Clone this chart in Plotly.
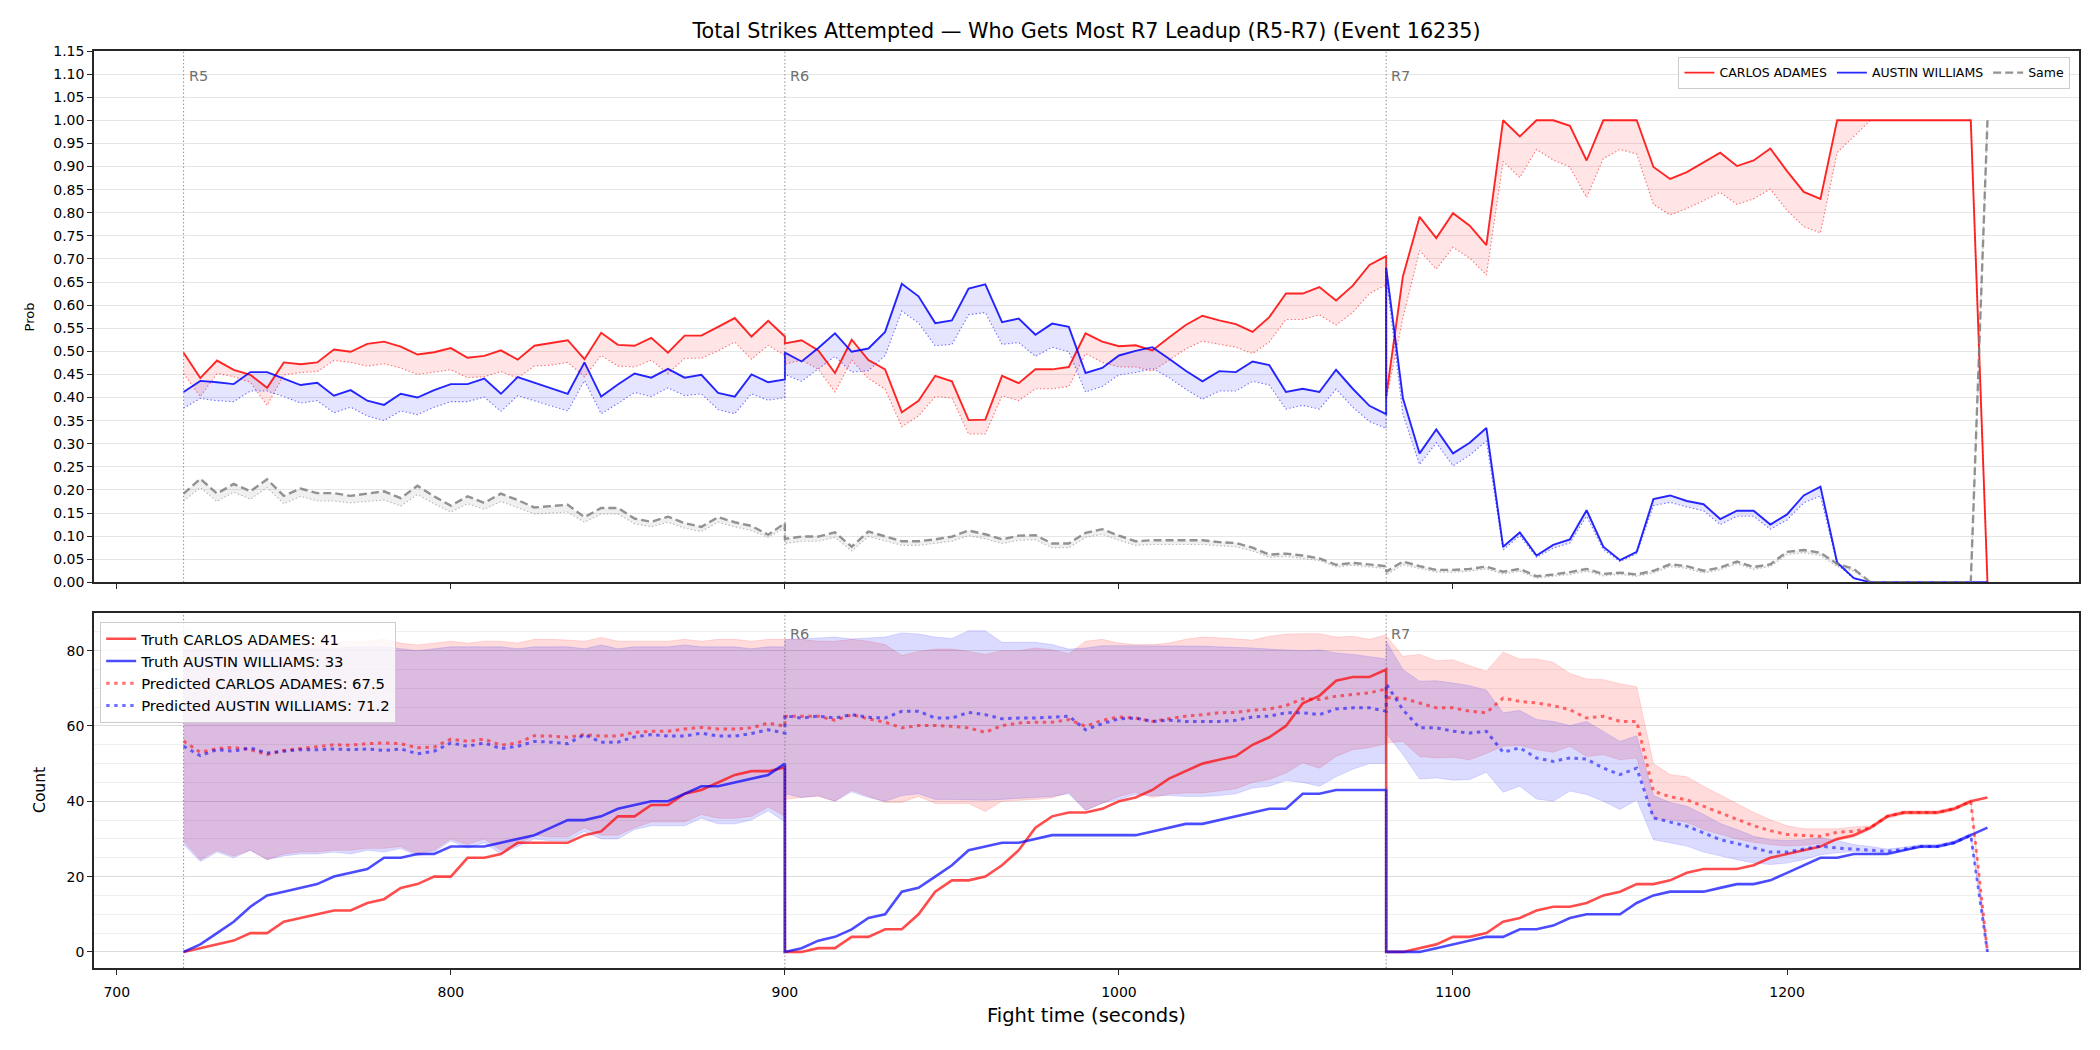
import plotly.graph_objects as go

# ---------------- data ----------------
r5_t = list(range(720, 901, 5))
r6_t = list(range(900, 1081, 5))
r7_t = list(range(1080, 1261, 5))
round_starts = [720, 900, 1080]
round_labels = ["R5", "R6", "R7"]

red_name = "CARLOS ADAMES"
blue_name = "AUSTIN WILLIAMS"
same_name = "Same"

# top: probabilities (solid) and second estimate (dotted)
red_prob_r5 = [0.497, 0.442, 0.480, 0.460, 0.449, 0.421, 0.476, 0.472, 0.476, 0.504, 0.499, 0.516, 0.521, 0.510, 0.493, 0.498, 0.507, 0.486, 0.490, 0.502, 0.482, 0.512, 0.518, 0.524, 0.483, 0.540, 0.514, 0.512, 0.529, 0.497, 0.534, 0.534, 0.553, 0.572, 0.532, 0.566, 0.532]
red_prob_r6 = [0.517, 0.524, 0.502, 0.453, 0.525, 0.481, 0.461, 0.368, 0.393, 0.447, 0.435, 0.351, 0.352, 0.447, 0.431, 0.461, 0.461, 0.466, 0.539, 0.521, 0.511, 0.513, 0.502, 0.530, 0.557, 0.577, 0.567, 0.559, 0.542, 0.574, 0.625, 0.625, 0.639, 0.610, 0.642, 0.687, 0.706]
red_prob_r7 = [0.402, 0.662, 0.791, 0.745, 0.799, 0.772, 0.730, 1.0, 0.965, 1.0, 1.0, 0.988, 0.913, 1.0, 1.0, 1.0, 0.899, 0.873, 0.888, 0.909, 0.930, 0.901, 0.913, 0.939, 0.890, 0.845, 0.830, 1.0, 1.0, 1.0, 1.0, 1.0, 1.0, 1.0, 1.0, 1.0, 0.0]
red_alt_r5 = [0.452, 0.402, 0.452, 0.445, 0.433, 0.383, 0.449, 0.454, 0.456, 0.480, 0.476, 0.468, 0.473, 0.464, 0.450, 0.455, 0.460, 0.443, 0.445, 0.456, 0.442, 0.468, 0.470, 0.476, 0.445, 0.491, 0.468, 0.466, 0.481, 0.452, 0.485, 0.485, 0.501, 0.520, 0.483, 0.513, 0.491]
red_alt_r6 = [0.472, 0.481, 0.461, 0.412, 0.481, 0.441, 0.418, 0.337, 0.360, 0.402, 0.399, 0.321, 0.321, 0.404, 0.393, 0.419, 0.419, 0.424, 0.495, 0.476, 0.466, 0.466, 0.457, 0.481, 0.505, 0.522, 0.515, 0.509, 0.495, 0.520, 0.569, 0.569, 0.579, 0.557, 0.584, 0.625, 0.644]
red_alt_r7 = [0.395, 0.572, 0.718, 0.678, 0.725, 0.702, 0.665, 0.911, 0.876, 0.937, 0.914, 0.899, 0.833, 0.917, 0.937, 0.927, 0.818, 0.795, 0.809, 0.826, 0.844, 0.818, 0.830, 0.851, 0.805, 0.770, 0.756, 0.930, 0.966, 1.0, 1.0, 1.0, 1.0, 1.0, 1.0, 1.0, 0.0]

blue_prob_r5 = [0.412, 0.436, 0.433, 0.429, 0.455, 0.455, 0.441, 0.427, 0.432, 0.404, 0.416, 0.393, 0.384, 0.408, 0.400, 0.416, 0.429, 0.429, 0.441, 0.408, 0.444, 0.432, 0.420, 0.408, 0.476, 0.402, 0.428, 0.452, 0.443, 0.462, 0.443, 0.449, 0.410, 0.402, 0.450, 0.433, 0.439]
blue_prob_r6 = [0.497, 0.478, 0.507, 0.539, 0.499, 0.506, 0.542, 0.646, 0.619, 0.561, 0.567, 0.636, 0.645, 0.563, 0.571, 0.536, 0.560, 0.553, 0.453, 0.464, 0.491, 0.501, 0.509, 0.484, 0.458, 0.435, 0.457, 0.455, 0.478, 0.470, 0.412, 0.419, 0.412, 0.460, 0.419, 0.382, 0.364]
blue_prob_r7 = [0.681, 0.399, 0.279, 0.331, 0.279, 0.302, 0.334, 0.077, 0.108, 0.058, 0.081, 0.093, 0.156, 0.077, 0.048, 0.066, 0.180, 0.188, 0.176, 0.169, 0.137, 0.155, 0.155, 0.125, 0.147, 0.188, 0.207, 0.043, 0.009, 0.0, 0.0, 0.0, 0.0, 0.0, 0.0, 0.0, 0.0]
blue_alt_r5 = [0.377, 0.398, 0.393, 0.391, 0.414, 0.414, 0.402, 0.388, 0.393, 0.367, 0.379, 0.360, 0.350, 0.371, 0.363, 0.379, 0.391, 0.391, 0.401, 0.370, 0.404, 0.393, 0.383, 0.371, 0.437, 0.365, 0.387, 0.411, 0.402, 0.421, 0.404, 0.408, 0.374, 0.365, 0.408, 0.394, 0.400]
blue_alt_r6 = [0.450, 0.435, 0.461, 0.489, 0.455, 0.458, 0.491, 0.587, 0.561, 0.512, 0.515, 0.579, 0.584, 0.515, 0.519, 0.489, 0.509, 0.499, 0.412, 0.424, 0.449, 0.454, 0.463, 0.443, 0.418, 0.396, 0.414, 0.414, 0.435, 0.427, 0.375, 0.383, 0.375, 0.418, 0.379, 0.348, 0.333]
blue_alt_r7 = [0.662, 0.364, 0.255, 0.302, 0.252, 0.275, 0.306, 0.070, 0.101, 0.054, 0.074, 0.085, 0.143, 0.071, 0.045, 0.062, 0.166, 0.173, 0.163, 0.155, 0.125, 0.143, 0.143, 0.115, 0.135, 0.172, 0.187, 0.039, 0.008, 0.0, 0.0, 0.0, 0.0, 0.0, 0.0, 0.0, 0.0]

same_prob_r5 = [0.192, 0.224, 0.192, 0.213, 0.197, 0.223, 0.187, 0.203, 0.193, 0.193, 0.187, 0.192, 0.197, 0.182, 0.209, 0.186, 0.166, 0.186, 0.172, 0.192, 0.178, 0.162, 0.165, 0.168, 0.141, 0.161, 0.161, 0.138, 0.131, 0.142, 0.128, 0.120, 0.141, 0.130, 0.122, 0.103, 0.128]
same_prob_r6 = [0.094, 0.099, 0.099, 0.108, 0.077, 0.110, 0.099, 0.089, 0.089, 0.093, 0.099, 0.112, 0.104, 0.093, 0.101, 0.102, 0.084, 0.084, 0.107, 0.115, 0.101, 0.089, 0.091, 0.091, 0.091, 0.091, 0.087, 0.085, 0.075, 0.060, 0.062, 0.058, 0.052, 0.038, 0.042, 0.038, 0.035]
same_prob_r7 = [0.023, 0.045, 0.035, 0.027, 0.027, 0.029, 0.034, 0.023, 0.029, 0.013, 0.017, 0.022, 0.029, 0.018, 0.021, 0.017, 0.025, 0.039, 0.035, 0.025, 0.032, 0.045, 0.033, 0.039, 0.066, 0.070, 0.064, 0.040, 0.029, 0.0, 0.0, 0.0, 0.0, 0.0, 0.0, 0.0, 1.0]
same_alt_r5 = [0.176, 0.205, 0.175, 0.195, 0.180, 0.205, 0.170, 0.186, 0.176, 0.176, 0.172, 0.175, 0.178, 0.165, 0.190, 0.170, 0.152, 0.170, 0.158, 0.175, 0.162, 0.148, 0.150, 0.152, 0.130, 0.148, 0.148, 0.127, 0.120, 0.130, 0.117, 0.110, 0.130, 0.120, 0.112, 0.097, 0.118]
same_alt_r6 = [0.084, 0.089, 0.089, 0.097, 0.068, 0.099, 0.089, 0.080, 0.080, 0.084, 0.089, 0.101, 0.094, 0.084, 0.091, 0.092, 0.075, 0.075, 0.097, 0.104, 0.091, 0.080, 0.082, 0.082, 0.082, 0.082, 0.079, 0.077, 0.068, 0.054, 0.056, 0.052, 0.047, 0.033, 0.037, 0.033, 0.030]
same_alt_r7 = [0.016, 0.038, 0.030, 0.022, 0.022, 0.024, 0.029, 0.018, 0.024, 0.009, 0.013, 0.017, 0.024, 0.014, 0.017, 0.013, 0.020, 0.034, 0.030, 0.020, 0.027, 0.040, 0.028, 0.034, 0.060, 0.064, 0.058, 0.034, 0.024, 0.0, 0.0, 0.0, 0.0, 0.0, 0.0, 0.0, 1.0]

# bottom: cumulative counts
red_truth_r5 = [0, 1, 2, 3, 5, 5, 8, 9, 10, 11, 11, 13, 14, 17, 18, 20, 20, 25, 25, 26, 29, 29, 29, 29, 31, 32, 36, 36, 39, 39, 42, 43, 45, 47, 48, 48, 49]
red_truth_r6 = [0, 0, 1, 1, 4, 4, 6, 6, 10, 16, 19, 19, 20, 23, 27, 33, 36, 37, 37, 38, 40, 41, 43, 46, 48, 50, 51, 52, 55, 57, 60, 66, 68, 72, 73, 73, 75]
red_truth_r7 = [0, 0, 1, 2, 4, 4, 5, 8, 9, 11, 12, 12, 13, 15, 16, 18, 18, 19, 21, 22, 22, 22, 23, 25, 26, 27, 28, 30, 31, 33, 36, 37, 37, 37, 38, 40, 41]
blue_truth_r5 = [0, 2, 5, 8, 12, 15, 16, 17, 18, 20, 21, 22, 25, 25, 26, 26, 28, 28, 28, 29, 30, 31, 33, 35, 35, 36, 38, 39, 40, 40, 42, 44, 44, 45, 46, 47, 50]
blue_truth_r6 = [0, 1, 3, 4, 6, 9, 10, 16, 17, 20, 23, 27, 28, 29, 29, 30, 31, 31, 31, 31, 31, 31, 32, 33, 34, 34, 35, 36, 37, 38, 38, 42, 42, 43, 43, 43, 43]
blue_truth_r7 = [0, 0, 0, 1, 2, 3, 4, 4, 6, 6, 7, 9, 10, 10, 10, 13, 15, 16, 16, 16, 17, 18, 18, 19, 21, 23, 25, 25, 26, 26, 26, 27, 28, 28, 29, 31, 33]

red_pred_r5 = [56.0, 53.0, 54.0, 54.3, 53.7, 52.4, 53.5, 54.0, 54.6, 55.0, 54.9, 55.3, 55.5, 55.3, 54.2, 54.4, 56.5, 55.9, 56.5, 54.9, 55.5, 57.4, 57.3, 57.0, 57.7, 57.3, 57.3, 58.3, 58.6, 58.6, 59.2, 59.6, 59.2, 59.2, 59.5, 60.8, 59.9]
red_pred_r6 = [62.6, 62.6, 62.6, 61.5, 63.0, 61.9, 61.0, 59.5, 60.1, 60.1, 59.9, 59.5, 58.3, 60.1, 60.8, 61.0, 61.0, 61.7, 59.9, 61.5, 62.4, 62.1, 61.2, 61.9, 62.6, 63.0, 63.5, 63.6, 64.2, 64.5, 65.4, 67.2, 67.0, 67.9, 68.3, 68.8, 69.8]
red_pred_r7 = [67.5, 67.4, 66.1, 64.8, 64.8, 63.9, 63.5, 67.4, 66.5, 66.1, 65.4, 64.3, 62.1, 62.6, 61.2, 61.2, 42.7, 41.2, 40.4, 38.7, 36.9, 35.1, 33.5, 32.2, 31.2, 30.9, 30.7, 31.8, 32.0, 33.0, 36.0, 37.0, 37.0, 37.0, 38.0, 40.0, 0.0]
blue_pred_r5 = [54.6, 52.1, 53.7, 53.3, 54.2, 52.8, 53.3, 53.7, 53.7, 53.9, 53.7, 53.9, 53.5, 53.9, 52.6, 53.3, 55.5, 54.6, 55.5, 54.0, 54.6, 55.9, 55.7, 55.3, 57.7, 55.7, 55.7, 57.1, 57.7, 57.3, 57.3, 58.1, 57.3, 57.3, 58.0, 59.0, 58.1]
blue_pred_r6 = [62.7, 62.1, 62.6, 62.1, 63.0, 62.3, 62.1, 63.9, 63.9, 62.1, 62.1, 63.6, 63.0, 61.9, 62.1, 62.1, 62.4, 62.6, 59.0, 60.6, 61.9, 62.1, 61.2, 61.5, 61.2, 61.2, 61.2, 61.5, 62.4, 62.6, 63.5, 63.5, 63.0, 64.5, 64.8, 64.8, 63.9]
blue_pred_r7 = [71.2, 64.3, 59.5, 59.5, 58.6, 58.1, 58.6, 53.0, 54.2, 51.5, 50.6, 51.5, 51.2, 48.8, 47.1, 48.8, 35.6, 34.4, 33.4, 31.6, 29.8, 28.8, 27.6, 26.5, 26.5, 27.3, 28.1, 27.6, 27.3, 27.0, 26.7, 27.3, 28.0, 28.0, 29.0, 31.0, 0.0]

red_hi_r5 = [82, 81.5, 82, 81.5, 82, 81, 81.5, 81.5, 82, 82, 82.5, 82.5, 83, 82, 81.5, 82, 82.5, 82, 82.5, 82.5, 82, 83, 83, 82.8, 82.5, 83.5, 82.5, 82.5, 82.5, 82.5, 83, 82.5, 83, 83, 82.5, 83, 83]
red_hi_r6 = [83, 83, 82.5, 82.5, 83, 82.5, 81.6, 78.7, 79.8, 80.4, 80.4, 79.8, 79, 80, 80, 80.7, 80.2, 79.2, 82.5, 83, 82, 81.6, 81.6, 82, 83, 83.6, 83.4, 83.1, 82.8, 83.8, 84.4, 84.5, 84.5, 83.6, 83.8, 83, 84.2]
red_hi_r7 = [84, 78.5, 79, 77.3, 77.6, 76, 74.5, 79.6, 77.8, 77.8, 76.9, 73.9, 72.5, 72.3, 71.2, 70.4, 50, 47.1, 46.5, 44, 41.8, 39.4, 37.1, 35.1, 33.5, 32.7, 32.7, 32.7, 33.2, 33.5, 36.5, 37.5, 37.5, 37.5, 38.5, 40.5, 0]
red_lo_r5 = [29.4, 24.5, 27, 25.5, 27, 24.5, 26, 26.5, 26.5, 27, 27, 27.5, 27.5, 28, 26, 27, 30, 28.5, 30, 27, 28.5, 31, 30.5, 30.5, 33, 31, 31, 33, 34.5, 34.5, 34.5, 36.5, 35.5, 35.5, 36, 38.5, 36]
red_lo_r6 = [40.5, 41, 41.3, 40, 43, 41.3, 39.7, 39.7, 41.3, 39.4, 39.4, 39.4, 37.3, 40, 40.3, 40.5, 40.9, 42.4, 37.6, 39.4, 41.3, 42.4, 41, 41.9, 42.2, 42.2, 42.7, 43.3, 45, 45.8, 47.5, 50.2, 48.8, 51.9, 53.7, 54.2, 55.3]
red_lo_r7 = [55.5, 55.9, 51.9, 51.5, 51.7, 51, 52.7, 54.6, 54.8, 53.7, 53, 54.6, 51.9, 52.4, 51, 51.5, 35.3, 35.1, 34.4, 32.5, 31.2, 30, 29.1, 28.5, 28.1, 28.3, 28.8, 29.6, 30.5, 32.5, 35.5, 36.5, 36.5, 36.5, 37.5, 39.5, 0]
blue_hi_r5 = [80, 80.5, 80.5, 80.5, 80.5, 80, 80.5, 80.5, 80.5, 80.5, 81, 81, 81, 80.5, 80, 80.5, 81, 81, 81, 81, 80.5, 81, 81, 81, 80.5, 81.5, 80.5, 81, 81, 81, 81.5, 81, 81, 81, 80.5, 81, 81]
blue_hi_r6 = [82.9, 83.1, 83.3, 83.6, 83.1, 83.3, 83.6, 84.7, 84.4, 83.6, 83.2, 85.3, 85.3, 82.2, 82.3, 82.2, 81.6, 80.4, 80.7, 81.3, 81.3, 81.3, 81.3, 81.2, 81.2, 81.2, 81, 80.9, 80.7, 80.4, 80.2, 80, 80.2, 79.4, 79, 78.3, 77.8]
blue_hi_r7 = [82.5, 75, 71.9, 72, 71.4, 70.7, 69.5, 63.5, 64.1, 61.7, 61.2, 60.1, 61.2, 58.6, 55.9, 57.4, 41.5, 39.7, 38.7, 36.5, 34.1, 32.5, 30.7, 29.8, 29.6, 29.8, 30.3, 29.6, 28.5, 28, 27.3, 27.8, 28.5, 28.5, 29.5, 31.5, 0]
blue_lo_r5 = [28.5, 24, 26.5, 25, 27, 24.5, 25.5, 26, 26, 26.5, 26, 27, 26.5, 27.5, 25.5, 26.5, 29.5, 27.5, 29, 26, 28, 30, 29.5, 29.5, 32, 30, 30, 32.5, 33.5, 33.5, 33.5, 35.5, 34, 34, 35, 37.5, 34.5]
blue_lo_r6 = [42, 41, 41.5, 40, 42.5, 41, 40, 41.5, 42, 40.5, 40.5, 40.5, 40.3, 40.5, 40.8, 41, 41.3, 42, 37.6, 39.5, 40.5, 41.8, 41.5, 41.5, 41.3, 41.3, 41.5, 42, 43.5, 44, 45.5, 45, 44, 46.5, 48.5, 50, 50]
blue_lo_r7 = [58, 52.4, 45.9, 46.2, 45.6, 45.8, 47.7, 42.4, 44, 40.6, 40, 42.7, 41.8, 40, 37.8, 40.4, 29.8, 28.9, 28.1, 26.5, 25.4, 24.5, 23.6, 23.2, 23.6, 24.5, 25.8, 26.3, 26.7, 26.5, 26.3, 27, 27.6, 27.6, 28.6, 30.6, 0]

x_ticks = [700, 800, 900, 1000, 1100, 1200]

# ---------------- assemble ----------------
t = r5_t + r6_t + r7_t
red_prob = red_prob_r5 + red_prob_r6 + red_prob_r7
red_alt = red_alt_r5 + red_alt_r6 + red_alt_r7
blue_prob = blue_prob_r5 + blue_prob_r6 + blue_prob_r7
blue_alt = blue_alt_r5 + blue_alt_r6 + blue_alt_r7
same_prob = same_prob_r5 + same_prob_r6 + same_prob_r7
same_alt = same_alt_r5 + same_alt_r6 + same_alt_r7
red_truth = red_truth_r5 + red_truth_r6 + red_truth_r7
blue_truth = blue_truth_r5 + blue_truth_r6 + blue_truth_r7
red_pred = red_pred_r5 + red_pred_r6 + red_pred_r7
blue_pred = blue_pred_r5 + blue_pred_r6 + blue_pred_r7
red_hi = red_hi_r5 + red_hi_r6 + red_hi_r7
red_lo = red_lo_r5 + red_lo_r6 + red_lo_r7
blue_hi = blue_hi_r5 + blue_hi_r6 + blue_hi_r7
blue_lo = blue_lo_r5 + blue_lo_r6 + blue_lo_r7

FONT = "DejaVu Sans"
DOT_THIN = "1.4px,2.3px"

fig = go.Figure()


def band(x, upper, lower, color, xa, ya, edge=None, edge_w=0):
    fig.add_trace(go.Scatter(
        x=x + x[::-1], y=upper + lower[::-1], fill="toself", fillcolor=color,
        mode="lines", line=dict(width=edge_w, color=edge or color),
        xaxis=xa, yaxis=ya, showlegend=False, hoverinfo="skip"))


# ---- top panel ----
band(t, red_prob, red_alt, "rgba(255,0,0,0.10)", "x", "y")
band(t, blue_prob, blue_alt, "rgba(0,0,255,0.10)", "x", "y")
band(t, same_prob, same_alt, "rgba(128,128,128,0.12)", "x", "y")

for ys, col in [(red_alt, "rgba(255,0,0,0.55)"), (blue_alt, "rgba(0,0,255,0.55)"),
                (same_alt, "rgba(128,128,128,0.55)")]:
    fig.add_trace(go.Scatter(x=t, y=ys, mode="lines", line=dict(color=col, width=1.1, dash=DOT_THIN),
                             xaxis="x", yaxis="y", showlegend=False, hoverinfo="skip"))

fig.add_trace(go.Scatter(x=t, y=red_prob, mode="lines", name=red_name,
                         line=dict(color="rgba(255,0,0,0.85)", width=1.9),
                         xaxis="x", yaxis="y", legend="legend"))
fig.add_trace(go.Scatter(x=t, y=blue_prob, mode="lines", name=blue_name,
                         line=dict(color="rgba(0,0,255,0.85)", width=1.9),
                         xaxis="x", yaxis="y", legend="legend"))
fig.add_trace(go.Scatter(x=t, y=same_prob, mode="lines", name=same_name,
                         line=dict(color="rgba(128,128,128,0.85)", width=2.4, dash="8px,4px"),
                         xaxis="x", yaxis="y", legend="legend"))

# ---- bottom panel ----
band(t, red_hi, red_lo, "rgba(255,0,0,0.14)", "x2", "y2", edge="rgba(255,0,0,0.12)", edge_w=1)
band(t, blue_hi, blue_lo, "rgba(0,0,255,0.14)", "x2", "y2", edge="rgba(0,0,255,0.12)", edge_w=1)

fig.add_trace(go.Scatter(x=t, y=red_truth, mode="lines",
                         name=f"Truth {red_name}: {red_truth_r7[-1]}",
                         line=dict(color="rgba(255,0,0,0.7)", width=2.6),
                         xaxis="x2", yaxis="y2", legend="legend2"))
fig.add_trace(go.Scatter(x=t, y=blue_truth, mode="lines",
                         name=f"Truth {blue_name}: {blue_truth_r7[-1]}",
                         line=dict(color="rgba(0,0,255,0.7)", width=2.6),
                         xaxis="x2", yaxis="y2", legend="legend2"))
fig.add_trace(go.Scatter(x=t, y=red_pred, mode="lines",
                         name=f"Predicted {red_name}: {red_pred_r7[0]}",
                         line=dict(color="rgba(255,0,0,0.55)", width=3, dash="3.5px,4.5px"),
                         xaxis="x2", yaxis="y2", legend="legend2"))
fig.add_trace(go.Scatter(x=t, y=blue_pred, mode="lines",
                         name=f"Predicted {blue_name}: {blue_pred_r7[0]}",
                         line=dict(color="rgba(0,0,255,0.55)", width=3, dash="3.5px,4.5px"),
                         xaxis="x2", yaxis="y2", legend="legend2"))

# ---- round markers ----
shapes = []
annotations = []
for xs, lab in zip(round_starts, round_labels):
    for xa, ya in [("x", "y"), ("x2", "y2")]:
        shapes.append(dict(type="line", xref=xa, yref=f"{ya} domain", x0=xs, x1=xs, y0=0, y1=1,
                           line=dict(color="rgba(110,110,110,0.8)", width=1, dash=DOT_THIN), layer="above"))
    annotations.append(dict(x=xs, y=1.117, xref="x", yref="y", text=lab, showarrow=False,
                            xanchor="left", yanchor="top", xshift=3,
                            font=dict(family=FONT, size=14.5, color="#707070")))
    if lab != "R5":
        annotations.append(dict(x=xs, y=87.2, xref="x2", yref="y2", text=lab, showarrow=False,
                                xanchor="left", yanchor="top", xshift=3,
                                font=dict(family=FONT, size=14.5, color="#707070")))

# axis titles
annotations += [
    dict(text="Fight time (seconds)", x=0.5, y=-0.052, xref="paper", yref="paper", showarrow=False,
         xanchor="center", yanchor="middle", font=dict(family=FONT, size=19.5, color="black")),
    dict(text="Prob", x=-0.0324, y=0.7102, xref="paper", yref="paper", showarrow=False, textangle=-90,
         xanchor="center", yanchor="middle", font=dict(family=FONT, size=13, color="black")),
    dict(text="Count", x=-0.0271, y=0.1944, xref="paper", yref="paper", showarrow=False, textangle=-90,
         xanchor="center", yanchor="middle", font=dict(family=FONT, size=15.5, color="black")),
]

axis_common = dict(showline=True, linecolor="#262626", linewidth=1.5, mirror=True,
                   ticks="outside", ticklen=5, tickwidth=1.2, tickcolor="#262626",
                   zeroline=False, tickfont=dict(family=FONT, size=14, color="black"))

fig.update_layout(
    width=2100, height=1050,
    margin=dict(l=93.75, r=21.4, t=50.9, b=81.7),
    paper_bgcolor="white", plot_bgcolor="white",
    font=dict(family=FONT, color="black"),
    title=dict(text="Total Strikes Attempted \u2014 Who Gets Most R7 Leadup (R5-R7) (Event 16235)",
               x=0.5, xref="paper", xanchor="center", y=1 - 31 / 1050, yref="container", yanchor="middle",
               font=dict(family=FONT, size=20.7, color="black")),
    xaxis=dict(domain=[0, 1], anchor="y", range=[693.18, 1287.4], tickvals=x_ticks,
               showticklabels=False, showgrid=False, **axis_common),
    yaxis=dict(domain=[0.4206, 1], anchor="x", range=[0, 1.15], tick0=0, dtick=0.05, tickformat=".2f",
               showgrid=True, gridcolor="#e6e6e6", gridwidth=1, **axis_common),
    xaxis2=dict(domain=[0, 1], anchor="y2", range=[693.18, 1287.4], tickvals=x_ticks, matches="x",
                showgrid=False, ticklabelstandoff=5, **axis_common),
    yaxis2=dict(domain=[0, 0.387], anchor="x2", range=[-4.27, 89.96], tick0=0, dtick=20,
                showgrid=True, gridcolor="#dcdcdc", gridwidth=1,
                minor=dict(dtick=5, tick0=0, showgrid=True, gridcolor="#efefef", gridwidth=1, ticks=""),
                **axis_common),
    legend=dict(orientation="h", x=0.9957, xanchor="right", y=0.9935, yanchor="top",
                bgcolor="rgba(255,255,255,0.8)", bordercolor="#cccccc", borderwidth=1,
                font=dict(family=FONT, size=12.5, color="black"), itemwidth=30),
    legend2=dict(orientation="v", x=0.0031, xanchor="left", y=0.3777, yanchor="top",
                 bgcolor="rgba(255,255,255,0.8)", bordercolor="#cccccc", borderwidth=1,
                 font=dict(family=FONT, size=14.8, color="black"), itemwidth=30, tracegroupgap=0),
    shapes=shapes,
    annotations=annotations,
    showlegend=True,
)

fig.write_html("out.html")
